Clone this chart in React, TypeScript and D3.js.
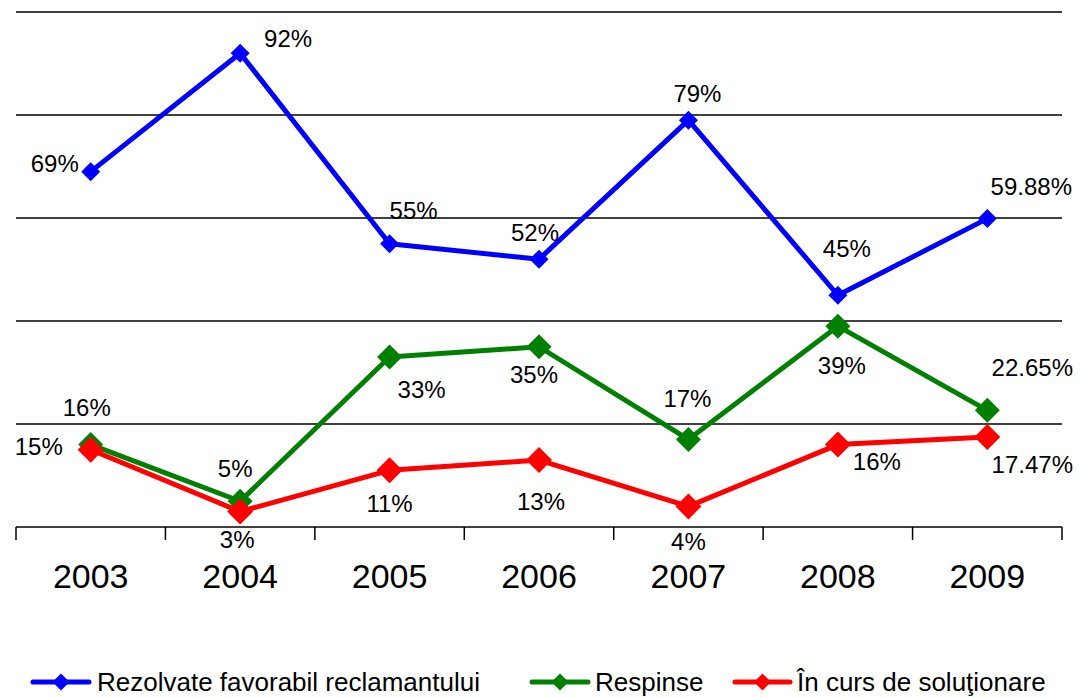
import React from "react";
import * as d3 from "d3";

const years = ["2003", "2004", "2005", "2006", "2007", "2008", "2009"];
const favorabil = [69, 92, 55, 52, 79, 45, 59.88];
const respinse = [16, 5, 33, 35, 17, 39, 22.65];
const inCurs = [15, 3, 11, 13, 4, 16, 17.47];
const favorabilLabels = ["69%", "92%", "55%", "52%", "79%", "45%", "59.88%"];
const respinseLabels = ["16%", "5%", "33%", "35%", "17%", "39%", "22.65%"];
const inCursLabels = ["15%", "3%", "11%", "13%", "4%", "16%", "17.47%"];
const yTicks = [0, 20, 40, 60, 80, 100];

// label placement offsets (layout only)
const favOffsets = [[-36, -8], [48, -15], [24, -33], [-4, -27], [9, -27], [9, -47], [44, -32]];
const respOffsets = [[-4, -37], [-5, -33], [32, 32], [-5, 28], [-1, -41], [4, 39], [45, -43]];
const cursOffsets = [[-52, -3], [-3, 28], [0, 33], [2, 41], [0, 35], [39, 17], [45, 27]];

const FONT = "'Liberation Sans', Arial, sans-serif";

export default function App() {
  const W = 1080, H = 698;
  const x = d3.scaleBand().domain(years).range([16, 1062]).paddingInner(0).paddingOuter(0);
  const y = d3.scaleLinear().domain([0, 100]).range([527, 12]);
  const cx = (i: number) => (x(years[i]) as number) + x.bandwidth() / 2;
  const line = d3.line<number>().x((_, i) => cx(i)).y((d) => y(d));

  const series = [
    { name: "Rezolvate favorabil reclamantului", color: "#0000FF", values: favorabil, labels: favorabilLabels, offsets: favOffsets, r: 9.5 },
    { name: "Respinse", color: "#008000", values: respinse, labels: respinseLabels, offsets: respOffsets, r: 12.5 },
    { name: "În curs de soluţionare", color: "#FF0000", values: inCurs, labels: inCursLabels, offsets: cursOffsets, r: 13 },
  ];

  const diamond = (px: number, py: number, r: number) =>
    `M${px},${py - r}L${px + r},${py}L${px},${py + r}L${px - r},${py}Z`;

  const boundaries = [...years.map((yr) => x(yr) as number), 1062];
  const legendItems = [
    { lx0: 33, lx1: 89, tx: 97 },
    { lx0: 532, lx1: 588, tx: 595 },
    { lx0: 735, lx1: 790, tx: 797 },
  ];

  return (
    <svg width={W} height={H} style={{ display: "block", position: "absolute", left: 0, top: 0 }} fontFamily={FONT}>
      <rect width={W} height={H} fill="#fff" />
      {yTicks.filter((t) => t > 0).map((t) => (
        <line key={t} x1={16} x2={1062} y1={y(t)} y2={y(t)} stroke="#000" strokeWidth={1.5} />
      ))}
      <line x1={16} x2={1062} y1={y(0)} y2={y(0)} stroke="#000" strokeWidth={1.5} />
      {boundaries.map((b, i) => (
        <line key={i} x1={b} x2={b} y1={y(0)} y2={540} stroke="#000" strokeWidth={1.5} />
      ))}
      {years.map((yr, i) => (
        <text key={yr} x={cx(i)} y={588} fontSize={34} textAnchor="middle" fill="#000">{yr}</text>
      ))}
      {series.map((s) => (
        <g key={s.name}>
          <path d={line(s.values) || ""} fill="none" stroke={s.color} strokeWidth={5} strokeLinejoin="round" />
          {s.values.map((v, i) => (
            <path key={i} d={diamond(cx(i), y(v), s.r)} fill={s.color} />
          ))}
        </g>
      ))}
      {series.map((s) => (
        <g key={s.name + "-labels"}>
          {s.values.map((v, i) => (
            <text key={i} x={cx(i) + s.offsets[i][0]} y={y(v) + s.offsets[i][1] + 8.6} fontSize={24} textAnchor="middle" fill="#000">
              {s.labels[i]}
            </text>
          ))}
        </g>
      ))}
      {series.map((s, k) => {
        const L = legendItems[k];
        const my = 682;
        return (
          <g key={s.name + "-legend"}>
            <line x1={L.lx0} x2={L.lx1} y1={my} y2={my} stroke={s.color} strokeWidth={5} strokeLinecap="round" />
            <path d={diamond((L.lx0 + L.lx1) / 2, my, 8.5)} fill={s.color} />
            <text x={L.tx} y={691} fontSize={26} fill="#000">{s.name}</text>
          </g>
        );
      })}
    </svg>
  );
}
